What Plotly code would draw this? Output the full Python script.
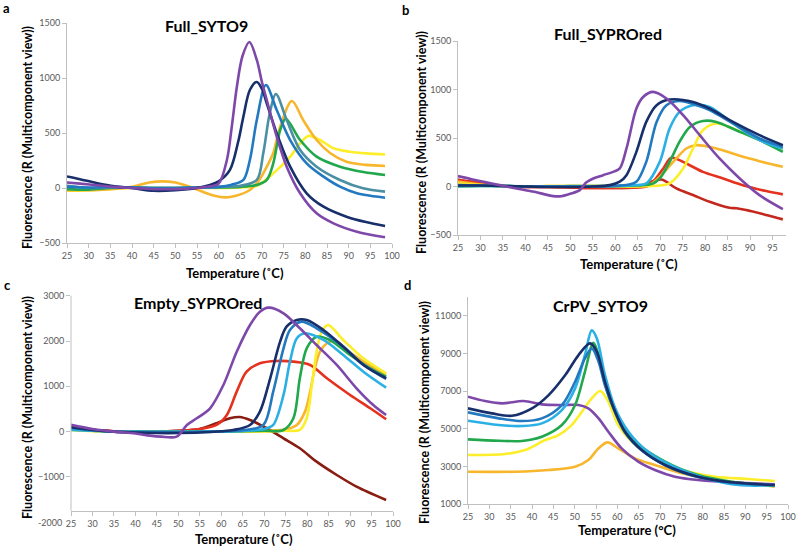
import plotly.graph_objects as go

# ---------------- Panel a: Full_SYTO9 ----------------
a_purple_t = [25, 28, 32, 36, 40, 45, 50, 55, 58, 60, 61.9, 63, 64.2, 65.5, 67.1, 68.8, 70, 71.1, 73.4, 75.7, 78.8, 82.6, 86.5, 91.9, 98.4]
a_purple_v = [50, 40, 25, 10, 0, -10, -10, 0, 15, 40, 255, 550, 921, 1200, 1327, 1164, 960, 800, 466, 194, -48, -230, -321, -397, -448]
a_navy_t = [25, 28, 32, 36, 40, 45, 50, 55, 58, 60, 62.6, 64.5, 65.7, 67.2, 68.8, 70, 71.1, 73.4, 76.5, 80.3, 84.2, 89.5, 94, 98.4]
a_navy_v = [105, 80, 43, 15, 0, -25, -20, 0, 27, 60, 164, 420, 648, 891, 964, 900, 770, 497, 194, -48, -170, -261, -310, -345]
a_blue_t = [25, 30, 35, 40, 45, 50, 55, 60, 63, 65.7, 67.2, 68.8, 70.9, 73.4, 76.5, 80.3, 84.2, 88, 91.9, 95, 98.4]
a_blue_v = [10, 5, 10, 5, 0, 0, 5, 10, 30, 73, 255, 618, 936, 709, 436, 224, 103, 12, -48, -70, -88]
a_teal_t = [25, 30, 35, 40, 45, 50, 55, 60, 65, 68.8, 70.3, 71.8, 73.2, 75.7, 78.8, 82.6, 88, 93.3, 98.4]
a_teal_v = [20, 0, 5, 5, 0, 0, 5, 10, 20, 73, 318, 682, 855, 618, 345, 194, 73, -3, -33]
a_green_t = [25, 30, 35, 40, 45, 50, 55, 60, 65, 69, 71.1, 72.6, 74.2, 75.5, 78.8, 82.6, 88, 93.4, 98.4]
a_green_v = [-10, -15, 0, 5, 0, 0, 5, 5, 10, 30, 73, 224, 527, 630, 436, 285, 194, 145, 118]
a_gold_t = [25, 30, 35, 40, 44, 47, 50, 53, 56, 59, 61.5, 64, 67.2, 69.5, 71.1, 72.6, 74.2, 76.9, 79.5, 82.6, 85.7, 89.5, 94, 98.4]
a_gold_v = [-20, -20, -10, 10, 50, 60, 50, 15, -30, -70, -85, -70, -18, 80, 194, 318, 558, 791, 618, 436, 318, 239, 210, 200]
a_yellow_t = [25, 30, 35, 40, 45, 50, 55, 60, 65, 68.8, 72.6, 76.5, 78.8, 80.7, 83.4, 86.5, 90.3, 94, 98.4]
a_yellow_v = [-25, -20, -10, 0, 0, 0, 0, 0, 5, 20, 133, 285, 406, 473, 436, 361, 330, 315, 306]

# ---------------- Panel b: Full_SYPROred ----------------
b_purple_t = [25, 28, 31, 34.3, 38, 42, 46.2, 48, 50, 52.1, 53.5, 55.1, 57.3, 59.5, 61, 62.5, 64.7, 66.2, 68.4, 71.4, 75.1, 78.8, 83.2, 87.7, 92.1, 97.3]
b_purple_v = [107, 75, 45, 14, -20, -55, -99, -100, -75, -37, 40, 83, 117, 151, 186, 392, 804, 923, 975, 907, 735, 529, 289, 83, -89, -233]
b_navy_t = [25, 30, 35, 40, 45, 50, 55, 58.8, 61, 62.5, 64.7, 66.9, 69.2, 72.1, 77.3, 81, 86.2, 92.1, 97.3]
b_navy_v = [10, 10, 5, 0, -5, -5, 0, 14, 50, 117, 357, 666, 838, 896, 872, 804, 666, 529, 426]
b_blue_t = [25, 30, 35, 40, 45, 50, 55, 60, 63, 64.7, 66.9, 69.2, 71.4, 74.3, 78, 81, 86.2, 92.1, 97.3]
b_blue_v = [15, 10, 5, 0, 0, 0, 0, 5, 20, 48, 254, 666, 838, 882, 840, 787, 650, 495, 409]
b_cyan_t = [25, 30, 35, 40, 45, 50, 55, 60, 65, 66.9, 69.9, 72.1, 74.3, 77.3, 81, 86.2, 92.1, 97.3]
b_cyan_v = [5, 5, 5, 0, 0, 0, 0, 5, 15, 31, 254, 598, 769, 838, 821, 650, 478, 392]
b_green_t = [25, 30, 35, 40, 45, 50, 55, 60, 65, 68.4, 69.9, 72.1, 74.3, 76.6, 79.5, 82.5, 86.9, 92.1, 97.3]
b_green_v = [0, 5, 5, 0, 0, 5, 5, 5, 10, 31, 83, 254, 460, 614, 676, 666, 580, 478, 357]
b_yellow_t = [25, 30, 35, 40, 45, 50, 55, 60, 65, 70, 72.1, 75.1, 77.3, 79.5, 82.5, 86.2, 92.1, 97.3]
b_yellow_v = [30, 15, 5, 0, 5, 5, 5, 0, 0, 10, 31, 186, 392, 580, 649, 597, 478, 385]
b_gold_t = [25, 30, 35, 40, 45, 50, 55, 60, 65, 68, 69.9, 71.5, 73.6, 75.8, 78, 82.5, 87.7, 92.1, 97.3]
b_gold_v = [50, 20, 5, 0, 5, 5, 5, 5, 5, 30, 100, 180, 289, 392, 426, 392, 316, 261, 203]
b_red_t = [25, 30, 35, 40, 45, 50, 55, 60, 65, 67, 68.4, 70.6, 72.5, 75.8, 79.5, 84, 88.4, 93.6, 97.3]
b_red_v = [70, 35, 5, -5, -5, -10, -15, -15, -10, 0, 48, 180, 296, 237, 151, 83, 14, -47, -81]
b_darkred_t = [25, 30, 35, 40, 45, 50, 55, 60, 65, 67, 69.2, 70.5, 73.6, 77.3, 81, 85.4, 87, 89.1, 93.6, 97.3]
b_darkred_v = [70, 35, 5, -5, -5, -10, -15, -15, -5, 30, 66, 70, -20, -88, -157, -219, -225, -243, -294, -339]

# ---------------- Panel c: Empty_SYPROred ----------------
c_purple_t = [25, 30, 35, 40, 43.4, 46, 49.6, 52, 54.3, 57.4, 60.5, 63.6, 66.7, 69, 71, 74.5, 78.3, 82.2, 86.9, 91.5, 95.4, 98.4]
c_purple_v = [150, 60, 0, -40, -88, -110, -110, 148, 295, 516, 1030, 1765, 2354, 2648, 2736, 2612, 2281, 1913, 1472, 957, 589, 368]
c_red_t = [25, 30, 35, 40, 45, 50, 55, 58.9, 61.3, 63.6, 65.9, 69, 72.9, 76.8, 80.7, 84.6, 90, 94.7, 98.4]
c_red_v = [100, 40, 10, 0, 0, 20, 60, 148, 368, 883, 1324, 1509, 1560, 1545, 1472, 1178, 810, 516, 273]
c_darkred_t = [25, 30, 35, 40, 45, 50, 55, 58.9, 62, 64.3, 66.7, 70.6, 74.5, 78.3, 82.2, 86.9, 91.5, 98.4]
c_darkred_v = [100, 40, 10, 0, 0, 20, 60, 185, 295, 324, 258, 75, -146, -366, -662, -956, -1213, -1507]
c_navy_t = [25, 30, 35, 40, 45, 50, 55, 60, 62.8, 66.7, 69, 71.4, 73.7, 75.2, 77.6, 79.9, 83.8, 88.4, 93.1, 98.4]
c_navy_v = [100, 40, 0, -20, -30, -30, -20, 10, 37, 148, 442, 1178, 1986, 2317, 2465, 2465, 2244, 1876, 1472, 1178]
c_blue_t = [25, 30, 35, 40, 45, 50, 55, 60, 65, 69.8, 72.1, 74.5, 76, 78.7, 82.2, 88.4, 93.1, 98.4]
c_blue_v = [80, 30, 0, -10, -10, -10, -5, 5, 30, 148, 883, 1839, 2244, 2428, 2281, 1876, 1480, 1165]
c_cyan_t = [25, 30, 35, 40, 45, 50, 55, 60, 65, 70, 72.1, 74.5, 76, 77.6, 79.5, 83.8, 88.4, 93.1, 98.4]
c_cyan_v = [40, 20, 0, 0, -5, -5, 0, 5, 15, 60, 148, 810, 1545, 2060, 2170, 2023, 1692, 1324, 971]
c_green_t = [25, 30, 35, 40, 45, 50, 55, 60, 65, 70, 74.5, 76.8, 78.3, 79.9, 82.2, 85.3, 90, 94.7, 98.4]
c_green_v = [50, 20, 0, 0, 0, 0, 0, 5, 10, 20, 37, 295, 1178, 1839, 2096, 2023, 1692, 1398, 1214]
c_gold_t = [25, 30, 35, 40, 45, 50, 55, 60, 65, 70, 75, 77.6, 79.5, 80.7, 81.8, 83, 84.6, 86.5, 90, 94.7, 98.4]
c_gold_v = [50, 20, 0, 0, 0, 0, 0, 0, 5, 10, 50, 148, 442, 883, 1398, 1765, 1950, 2010, 1750, 1450, 1260]
c_yellow_t = [25, 30, 35, 40, 45, 50, 55, 60, 65, 70, 75, 78.3, 79.9, 81.1, 82.2, 83.4, 84.9, 88.4, 93.1, 98.4]
c_yellow_v = [30, 10, 0, 0, 0, 0, 0, 0, 0, 5, 20, 37, 295, 1030, 1765, 2207, 2354, 2023, 1619, 1288]

# ---------------- Panel d: CrPV_SYTO9 ----------------
d_purple_t = [25, 29, 33, 38, 42.3, 47, 50.9, 53.2, 55.6, 57.9, 61, 64.9, 68.8, 73.5, 78.9, 86.8, 96.9]
d_purple_v = [6698, 6470, 6348, 6470, 6295, 6258, 6258, 6082, 5551, 4840, 3958, 3250, 2806, 2451, 2275, 2152, 2046]
d_navy_t = [25, 30.6, 35.3, 40, 43.9, 47.8, 50.9, 53.6, 55.2, 57.1, 59.5, 61.8, 65.7, 71.2, 78.9, 86.8, 96.9]
d_navy_v = [6082, 5817, 5690, 6082, 6788, 7851, 8913, 9534, 9090, 7495, 5902, 4840, 3868, 3071, 2451, 2152, 2009]
d_blue_t = [25, 32.2, 37.6, 42.3, 47, 50.1, 52.4, 54, 55.6, 57.1, 59.5, 61.8, 65.7, 71.2, 78.9, 86.8, 96.9]
d_blue_v = [5870, 5551, 5408, 5551, 6258, 7495, 8736, 9267, 8558, 7300, 5850, 4800, 3850, 3060, 2430, 2130, 2000]
d_cyan_t = [25, 32.2, 37.6, 42.3, 47, 50.1, 52.4, 54, 55.2, 57.1, 59.5, 62.6, 67.2, 75.1, 86.8, 96.9]
d_cyan_v = [5424, 5195, 5142, 5284, 5992, 7144, 8913, 10225, 9800, 7851, 6082, 4840, 3778, 2806, 2046, 2000]
d_green_t = [25, 32.2, 37.6, 42.3, 47, 50.1, 52.4, 54.4, 55.6, 57.9, 63.4, 71.2, 78.9, 86.8, 96.9]
d_green_v = [4435, 4362, 4350, 4574, 5195, 6258, 8027, 9566, 8913, 6788, 4489, 3250, 2540, 2186, 1974]
d_yellow_t = [25, 33.7, 38.4, 43.1, 46.2, 49.3, 51.7, 54, 56, 57.9, 60.2, 63.4, 68.8, 75.1, 82.9, 90.6, 96.9]
d_yellow_v = [3602, 3655, 3868, 4399, 4664, 5195, 5902, 6610, 7001, 6433, 5195, 4309, 3427, 2806, 2451, 2328, 2221]
d_gold_t = [25, 36.1, 43.9, 50.1, 53.2, 55.6, 57.7, 60.2, 64.1, 68.8, 75.1, 82.9, 90.6, 96.9]
d_gold_v = [2716, 2716, 2806, 2983, 3337, 3958, 4277, 3958, 3427, 3071, 2628, 2275, 2098, 1920]

# tick labels
x_ticks_full = list(range(25, 101, 5))
x_ticks_b = list(range(25, 96, 5))
a_yticks = [-500, 0, 500, 1000, 1500]
c_yticks = [-1000, 0, 1000, 2000, 3000]
c_ymin_label = "-2000"
d_yticks = [1000, 3000, 5000, 7000, 9000, 11000]

PURPLE = "#7e48aa"
NAVY = "#172f6a"
BLUE = "#2279bf"
TEAL = "#4b8fa3"
CYAN = "#2bb0e5"
GREEN = "#22a84c"
GOLD = "#f8b62c"
YELLOW = "#fcee2a"
RED = "#e5321f"
DARKRED_B = "#c4281c"
DARKRED_C = "#8a1d12"
AXIS = "#c0c0c0"
TICKTXT = "#5a5a5a"

FONT = "Lato"
fig = go.Figure()


def add(t, v, color, ax):
    fig.add_trace(go.Scatter(
        x=t, y=v, mode="lines",
        line=dict(color=color, width=2.6, shape="spline", smoothing=0.9),
        xaxis="x" + ax, yaxis="y" + ax, showlegend=False, hoverinfo="skip"))


# panel a (order: back to front)
add(a_yellow_t, a_yellow_v, YELLOW, "")
add(a_gold_t, a_gold_v, GOLD, "")
add(a_green_t, a_green_v, GREEN, "")
add(a_teal_t, a_teal_v, TEAL, "")
add(a_blue_t, a_blue_v, BLUE, "")
add(a_navy_t, a_navy_v, NAVY, "")
add(a_purple_t, a_purple_v, PURPLE, "")
# panel b
add(b_darkred_t, b_darkred_v, DARKRED_B, "2")
add(b_red_t, b_red_v, RED, "2")
add(b_gold_t, b_gold_v, GOLD, "2")
add(b_yellow_t, b_yellow_v, YELLOW, "2")
add(b_green_t, b_green_v, GREEN, "2")
add(b_cyan_t, b_cyan_v, CYAN, "2")
add(b_blue_t, b_blue_v, BLUE, "2")
add(b_navy_t, b_navy_v, NAVY, "2")
add(b_purple_t, b_purple_v, PURPLE, "2")
# panel c
add(c_darkred_t, c_darkred_v, DARKRED_C, "3")
add(c_red_t, c_red_v, RED, "3")
add(c_gold_t, c_gold_v, GOLD, "3")
add(c_yellow_t, c_yellow_v, YELLOW, "3")
add(c_green_t, c_green_v, GREEN, "3")
add(c_cyan_t, c_cyan_v, CYAN, "3")
add(c_blue_t, c_blue_v, BLUE, "3")
add(c_navy_t, c_navy_v, NAVY, "3")
add(c_purple_t, c_purple_v, PURPLE, "3")
# panel d
add(d_gold_t, d_gold_v, GOLD, "4")
add(d_yellow_t, d_yellow_v, YELLOW, "4")
add(d_purple_t, d_purple_v, PURPLE, "4")
add(d_green_t, d_green_v, GREEN, "4")
add(d_cyan_t, d_cyan_v, CYAN, "4")
add(d_blue_t, d_blue_v, BLUE, "4")
add(d_navy_t, d_navy_v, NAVY, "4")

W, H = 800, 550


def px_x(p):
    return p / W


def px_y(p):
    return 1 - p / H


axis_common = dict(linecolor=AXIS, linewidth=1, showgrid=False,
                   zeroline=False, ticks="outside", ticklen=4, tickcolor=AXIS,
                   tickfont=dict(family=FONT, size=9, color=TICKTXT), automargin=False)

C_AXIS_Y = 510.7  # pixel row where the x axis of panel c sits

layout = dict(
    width=W, height=H, margin=dict(l=0, r=0, t=0, b=0),
    paper_bgcolor="white", plot_bgcolor="rgba(0,0,0,0)", font=dict(family=FONT),
    xaxis=dict(domain=[px_x(67), px_x(392)], range=[25, 100], tickvals=x_ticks_full, anchor="y", showline=True, **axis_common),
    yaxis=dict(domain=[px_y(243), px_y(23)], range=[-500, 1500], tickvals=a_yticks, anchor="x", showline=True, **axis_common),
    xaxis2=dict(domain=[px_x(458), px_x(786)], range=[25, 98], tickvals=x_ticks_b, anchor="y2", showline=True, **axis_common),
    yaxis2=dict(domain=[px_y(235), px_y(41)], range=[-500, 1500], tickvals=a_yticks, anchor="x2", showline=True, **axis_common),
    xaxis3=dict(domain=[px_x(71), px_x(393)], range=[25, 100], tickvals=x_ticks_full, anchor="free",
                position=px_y(C_AXIS_Y), showline=True, **axis_common),
    yaxis3=dict(domain=[px_y(522.3), px_y(295.7)], range=[-2000, 3000], tickvals=c_yticks, anchor="x3",
                showline=False, **axis_common),
    xaxis4=dict(domain=[px_x(468), px_x(788)], range=[25, 100], tickvals=x_ticks_full, anchor="y4", showline=True, **axis_common),
    yaxis4=dict(domain=[px_y(504), px_y(297)], range=[1000, 12000], tickvals=d_yticks,
                ticktext=[str(v) for v in d_yticks], anchor="x4", showline=True, **axis_common),
)
fig.update_layout(**layout)

# y axis line of panel c ends where its x axis sits
fig.add_shape(type="line", xref="paper", yref="paper", x0=px_x(71), x1=px_x(71),
              y0=px_y(C_AXIS_Y), y1=px_y(295.7), line=dict(color=AXIS, width=1), layer="above")


def note(text, x, y, size, angle=0, color="black", xanchor="center"):
    fig.add_annotation(text=text, x=px_x(x), y=px_y(y), xref="paper", yref="paper",
                       showarrow=False, textangle=angle, xanchor=xanchor, yanchor="middle",
                       font=dict(family=FONT, size=size, color=color))


# lowest y label of panel c (sits beside the x tick labels)
note(c_ymin_label, 64, 522.3, 9, color=TICKTXT, xanchor="right")
# panel letters
note("<b>a</b>", 6, 8, 13)
note("<b>b</b>", 406, 10, 13)
note("<b>c</b>", 7, 285, 13)
note("<b>d</b>", 407, 285, 13)
# panel titles
note("<b>Full_SYTO9</b>", 207, 26, 16)
note("<b>Full_SYPROred</b>", 608, 33, 16)
note("<b>Empty_SYPROred</b>", 198, 302, 16)
note("<b>CrPV_SYTO9</b>", 600, 305, 16)
# x titles
note("<b>Temperature (˚C)</b>", 235, 273, 13)
note("<b>Temperature (˚C)</b>", 629, 264, 13)
note("<b>Temperature (˚C)</b>", 244, 539, 13)
note("<b>Temperature (°C)</b>", 627, 530, 13)
# y titles
ytitle = "<b>Fluorescence (R (Multicomponent view))</b>"
note(ytitle, 27, 138, 12.5, -90)
note(ytitle, 421, 143, 12.5, -90)
note(ytitle, 27, 408, 12.5, -90)
note(ytitle, 424, 413, 12.5, -90)

fig.write_html("out.html", config={"displayModeBar": False},
               post_script="document.body.style.margin='0';document.body.style.overflow='hidden';")
